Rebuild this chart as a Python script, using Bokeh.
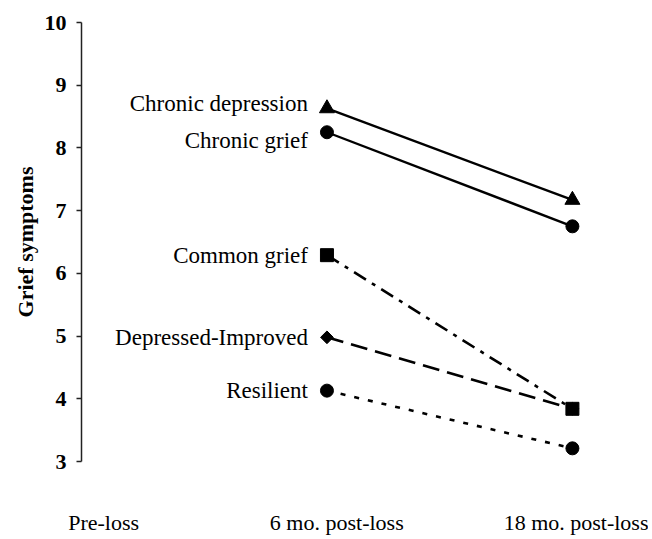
import math
from bokeh.plotting import figure
from bokeh.models import Range1d, FixedTicker, ColumnDataSource
from bokeh.core.properties import value
from bokeh.embed import file_html
from bokeh.resources import INLINE

# ---- data ----
time_labels = ["Pre-loss", "6 mo. post-loss", "18 mo. post-loss"]
time_index = [1, 2]          # 6 mo. and 18 mo. post-loss
chronic_depression = [8.63, 7.17]
chronic_grief = [8.25, 6.75]
common_grief = [6.29, 3.84]
depressed_improved = [4.98, 3.84]
resilient = [4.13, 3.21]
series_names = ["Chronic depression", "Chronic grief", "Common grief",
                "Depressed-Improved", "Resilient"]
y_ticks = [3, 4, 5, 6, 7, 8, 9, 10]

SERIF = "'Liberation Serif', 'Times New Roman', serif"

p = figure(width=648, height=537,
           x_range=Range1d(0, 2.31), y_range=Range1d(3, 10),
           output_backend="svg", toolbar_location=None,
           min_border_left=81, min_border_top=22,
           min_border_bottom=74, min_border_right=0)
p.outline_line_color = None
p.xgrid.visible = False
p.ygrid.visible = False
p.background_fill_color = "white"
p.border_fill_color = "white"

# y axis
ya = p.yaxis[0]
ya.ticker = FixedTicker(ticks=y_ticks)
ya.minor_tick_line_color = None
ya.major_tick_in = 0
ya.major_tick_out = 5
ya.major_tick_line_color = "#222222"
ya.major_tick_line_width = 1.3
ya.axis_line_color = "#222222"
ya.axis_line_width = 1.5
ya.major_label_text_font = SERIF
ya.major_label_text_font_style = "bold"
ya.major_label_text_font_size = "22px"
ya.major_label_text_color = "black"
ya.major_label_standoff = 10
ya.axis_label = "Grief symptoms"
ya.axis_label_text_font = SERIF
ya.axis_label_text_font_style = "bold"
ya.axis_label_text_font_size = "22px"
ya.axis_label_text_color = "black"
ya.axis_label_standoff = 4

# x axis (labels only)
tick_pos = [0.09, 1.04, 2.02]
xa = p.xaxis[0]
xa.ticker = FixedTicker(ticks=tick_pos)
xa.major_label_overrides = {t: lab for t, lab in zip(tick_pos, time_labels)}
xa.axis_line_color = None
xa.major_tick_line_color = None
xa.minor_tick_line_color = None
xa.major_tick_out = 0
xa.major_tick_in = 0
xa.major_label_text_font = SERIF
xa.major_label_text_font_size = "22px"
xa.major_label_text_color = "black"
xa.major_label_standoff = 48

# lines
p.line(time_index, chronic_depression, line_color="black", line_width=2.4)
p.line(time_index, chronic_grief, line_color="black", line_width=2.4)
p.line(time_index, depressed_improved, line_color="black", line_width=2.6,
       line_dash="17 8")
p.line(time_index, common_grief, line_color="black", line_width=2.6,
       line_dash="14 7 4 7")
p.line(time_index, resilient, line_color="black", line_width=2.6,
       line_dash="5 9")

# markers
p.scatter(time_index, chronic_depression, marker="triangle", size=15,
          color="black")
p.scatter(time_index, chronic_grief, marker="circle", size=13, color="black")
p.scatter(time_index, depressed_improved, marker="square", angle=math.pi / 4,
          size=9, color="black")
p.scatter(time_index, common_grief, marker="square", size=13, color="black")
p.scatter(time_index, resilient, marker="circle", size=13, color="black")

# series labels at 6 mo.
label_src = ColumnDataSource(dict(
    x=[time_index[0]] * 5,
    y=[chronic_depression[0], chronic_grief[0], common_grief[0],
       depressed_improved[0], resilient[0]],
    text=series_names,
    yoff=[-5, 8, 0, 0, 0],
))
p.text(x="x", y="y", text="text", source=label_src, x_offset=-19,
       y_offset="yoff", text_align="right", text_baseline="middle",
       text_font=value(SERIF), text_font_size="23px", text_color="black")

open("out.html", "w").write(file_html(p, INLINE))
